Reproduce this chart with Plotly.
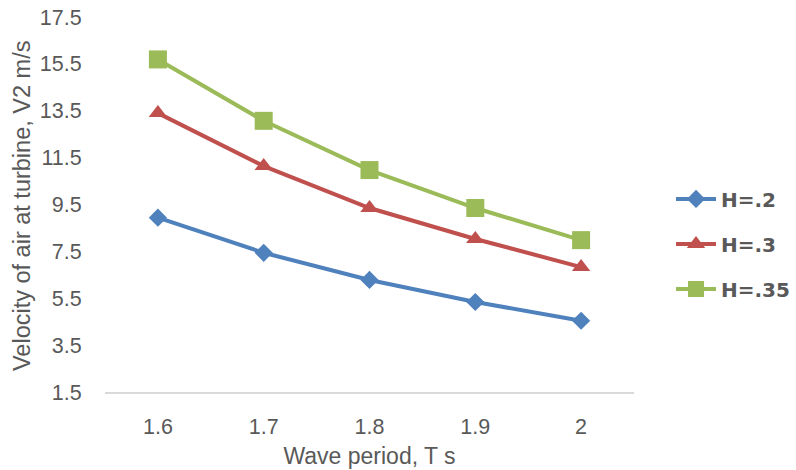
import plotly.graph_objects as go

periods = ["1.6", "1.7", "1.8", "1.9", "2"]
h_02 = [8.94, 7.44, 6.28, 5.34, 4.54]
h_03 = [13.40, 11.14, 9.35, 8.03, 6.83]
h_035 = [15.69, 13.07, 10.97, 9.35, 7.98]
y_ticks = [1.5, 3.5, 5.5, 7.5, 9.5, 11.5, 13.5, 15.5, 17.5]

series = [
    ("H=.2", h_02, "#4F81BD", "diamond", 14),
    ("H=.3", h_03, "#C0504D", "triangle-up", 16),
    ("H=.35", h_035, "#9BBB59", "square", 18),
]

fig = go.Figure()
for i, (name, vals, color, sym, size) in enumerate(series):
    fig.add_trace(go.Scatter(
        x=periods, y=vals, name=name, mode="lines+markers",
        line=dict(color=color, width=4),
        marker=dict(symbol=sym, size=size, color=color),
        legendgroup=f"g{i}",
    ))

fig.update_layout(
    width=796, height=470,
    margin=dict(l=105, r=162, t=17, b=78, autoexpand=False),
    paper_bgcolor="white", plot_bgcolor="white",
    font=dict(family="Liberation Sans, Arial", size=21, color="#595959"),
    showlegend=True,
    legend=dict(x=1.07, y=0.395, xanchor="left", yanchor="middle",
                font=dict(size=20, color="#595959", family="DejaVu Sans", weight="bold"),
                tracegroupgap=16, itemwidth=40, bgcolor="rgba(0,0,0,0)"),
    xaxis=dict(
        type="category", range=[-0.5, 4.5], automargin=False,
        showline=True, linecolor="#D9D9D9", linewidth=1.5,
        showgrid=False, zeroline=False,
        ticks="outside", ticklen=14, tickcolor="rgba(0,0,0,0)",
        tickfont=dict(size=21.5, color="#595959"),
        title=dict(text="Wave period, T s", font=dict(size=23, color="#595959"), standoff=10),
    ),
    yaxis=dict(
        range=[1.5, 17.5], tickvals=y_ticks, ticktext=[f"{v:.1f}" for v in y_ticks],
        automargin=False,
        showline=False, showgrid=False, zeroline=False,
        ticks="outside", ticklen=18, tickcolor="rgba(0,0,0,0)",
        tickfont=dict(size=21.5, color="#595959"),
    ),
)

fig.add_annotation(
    text="Velocity of air at turbine, V2 m/s", textangle=-90,
    xref="paper", yref="paper", x=-0.158, y=0.497,
    xanchor="center", yanchor="middle", showarrow=False,
    font=dict(size=23.5, color="#595959", family="Liberation Sans, Arial"),
)

fig.write_html("out.html")
